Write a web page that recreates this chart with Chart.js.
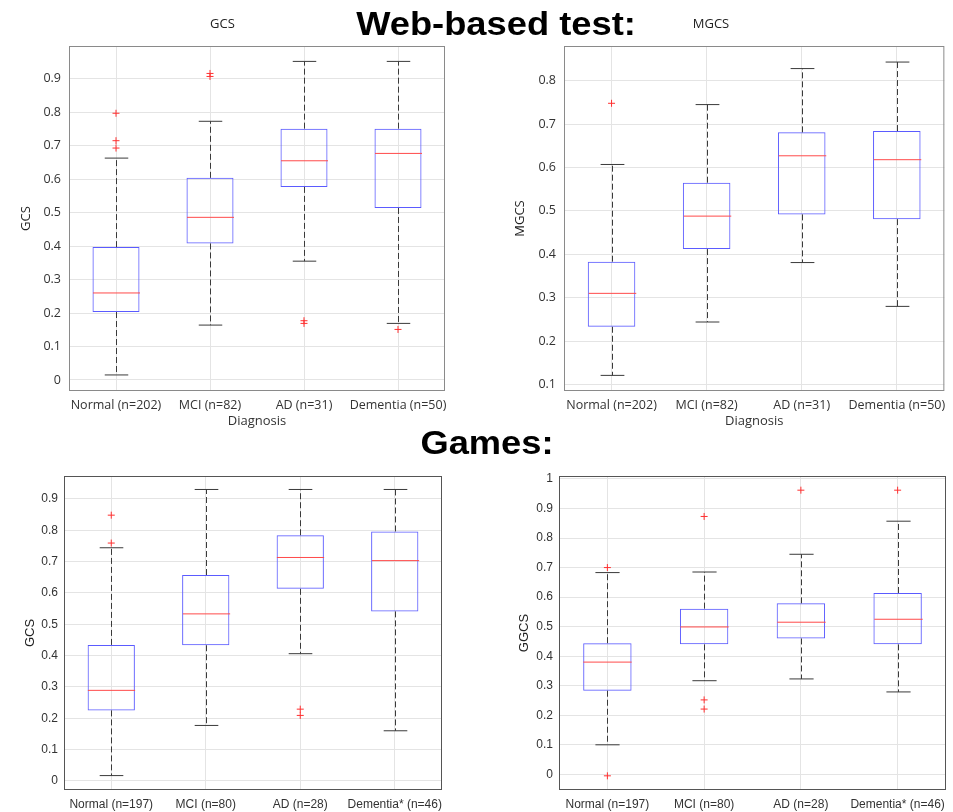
<!DOCTYPE html>
<html>
<head>
<meta charset="utf-8">
<script src="https://cdn.jsdelivr.net/npm/chart.js@4"></script>
<style>
  body { margin: 0; background: #fff; }
  .wrap { position: relative; width: 953px; height: 812px; overflow: hidden; }
  .panel { position: absolute; }
  .heading {
    position: absolute; width: 400px; text-align: center;
    font: bold 33px/33px "Liberation Sans", Arial, sans-serif; color: #000;
    transform: scaleX(1.1); transform-origin: center; z-index: 2; white-space: nowrap;
  }
</style>
</head>
<body>
<div class="wrap">
  <div class="heading" style="left:296px; top:7px;">Web-based test:</div>
  <div class="heading" style="left:287px; top:426px;">Games:</div>
  <div class="panel" style="left:0; top:0; width:476px; height:430px;"><canvas id="web-gcs"></canvas></div>
  <div class="panel" style="left:476px; top:0; width:477px; height:430px;"><canvas id="web-mgcs"></canvas></div>
  <div class="panel" style="left:0; top:430px; width:476px; height:382px;"><canvas id="games-gcs"></canvas></div>
  <div class="panel" style="left:476px; top:430px; width:477px; height:382px;"><canvas id="games-ggcs"></canvas></div>
</div>
<script>
'use strict';

// categories
const webGroups = ['Normal (n=202)', 'MCI (n=82)', 'AD (n=31)', 'Dementia (n=50)']
const gameGroups = ['Normal (n=197)', 'MCI (n=80)', 'AD (n=28)', 'Dementia* (n=46)']

// web-based test, GCS
const webGcsLow = [0.015, 0.164, 0.355, 0.169]
const webGcsQ1 = [0.203, 0.408, 0.577, 0.514]
const webGcsMedian = [0.260, 0.486, 0.655, 0.677]
const webGcsQ3 = [0.397, 0.604, 0.751, 0.751]
const webGcsHigh = [0.663, 0.773, 0.952, 0.952]
const webGcsOutliers = [[0.797, 0.715, 0.693], [0.916, 0.907], [0.177, 0.169], [0.151]]

// web-based test, MGCS
const webMgcsLow = [0.121, 0.244, 0.381, 0.280]
const webMgcsQ1 = [0.233, 0.412, 0.492, 0.481]
const webMgcsMedian = [0.310, 0.488, 0.627, 0.618]
const webMgcsQ3 = [0.383, 0.565, 0.681, 0.684]
const webMgcsHigh = [0.607, 0.745, 0.828, 0.843]
const webMgcsOutliers = [[0.748], [], [], []]

// games, GCS
const gameGcsLow = [0.017, 0.177, 0.406, 0.160]
const gameGcsQ1 = [0.225, 0.433, 0.613, 0.541]
const gameGcsMedian = [0.289, 0.533, 0.713, 0.703]
const gameGcsQ3 = [0.434, 0.657, 0.784, 0.796]
const gameGcsHigh = [0.744, 0.930, 0.930, 0.930]
const gameGcsOutliers = [[0.848, 0.759], [], [0.229, 0.209], []]

// games, GGCS
const gameGgcsLow = [0.100, 0.317, 0.323, 0.279]
const gameGgcsQ1 = [0.283, 0.440, 0.460, 0.440]
const gameGgcsMedian = [0.380, 0.499, 0.515, 0.525]
const gameGgcsQ3 = [0.444, 0.561, 0.579, 0.614]
const gameGgcsHigh = [0.683, 0.685, 0.745, 0.857]
const gameGgcsOutliers = [[0.700, -0.005], [0.873, 0.252, 0.221], [0.962], [0.962]]

const topFont = "'Open Sans', sans-serif"
const bottomFont = "'Liberation Sans', Arial, sans-serif"

// draws whiskers, caps, medians and the axes frame from the scales

function boxWhiskerPlugin(stats, frameColor) {
    return {
        id: 'boxWhiskers',
        afterDatasetsDraw(chart) {
            const { ctx, chartArea, scales: { x, y } } = chart
            const step = x.getPixelForValue(1) - x.getPixelForValue(0)

            const line = (x1, y1, x2, y2) => {
                ctx.beginPath()
                ctx.moveTo(x1, y1)
                ctx.lineTo(x2, y2)
                ctx.stroke()
            }

            ctx.save()
            ctx.lineWidth = 1

            for (let i = 0; i < stats.median.length; i++) {
                const cx = Math.round(x.getPixelForValue(i)) + 0.5
                const yHigh = y.getPixelForValue(stats.high[i])
                const yLow = y.getPixelForValue(stats.low[i])

                // dashed whiskers
                ctx.strokeStyle = '#3a3a3a'
                ctx.setLineDash([6, 3])
                line(cx, y.getPixelForValue(stats.q3[i]), cx, yHigh)
                line(cx, y.getPixelForValue(stats.q1[i]), cx, yLow)
                ctx.setLineDash([])

                // caps
                line(cx - step * 0.125, yHigh, cx + step * 0.125, yHigh)
                line(cx - step * 0.125, yLow, cx + step * 0.125, yLow)

                // median
                ctx.strokeStyle = '#ff4a4a'
                const yMed = y.getPixelForValue(stats.median[i])
                line(cx - step * 0.25, yMed, cx + step * 0.25, yMed)
            }

            ctx.strokeStyle = frameColor
            ctx.strokeRect(chartArea.left + 0.5, chartArea.top + 0.5, chartArea.width - 1, chartArea.height - 1)
            ctx.restore()
        }
    }
}

function makeBoxChart(canvasId, cfg) {
    const boxes = cfg.q1.map((v, i) => [v, cfg.q3[i]])
    const outlierPoints = cfg.outliers.flatMap((list, i) => list.map(v => ({ x: cfg.labels[i], y: v })))

    return new Chart(document.getElementById(canvasId), {
        type: 'bar',
        data: {
            labels: cfg.labels,
            datasets: [{
                data: boxes,
                backgroundColor: 'rgba(0,0,0,0)',
                borderColor: '#5b5bff',
                borderWidth: 1,
                borderSkipped: false,
                categoryPercentage: 1,
                barPercentage: 0.5
            }, {
                type: 'line',
                data: outlierPoints,
                showLine: false,
                pointStyle: 'cross',
                pointRadius: 3.5,
                pointBorderColor: '#ff3030',
                pointBorderWidth: 1
            }]
        },
        options: {
            responsive: true,
            maintainAspectRatio: false,
            animation: false,
            layout: { padding: { left: 0, right: cfg.padRight, top: cfg.padTop, bottom: 0 } },
            plugins: {
                legend: { display: false },
                tooltip: { enabled: false },
                title: {
                    display: !!cfg.title,
                    text: cfg.title,
                    color: '#222',
                    font: { family: cfg.font, size: 13, weight: 'normal' },
                    padding: { top: 16, bottom: 14.4 }
                }
            },
            scales: {
                x: {
                    offset: true,
                    grid: { offset: false, color: '#e4e4e4', drawTicks: false },
                    border: { display: false },
                    ticks: {
                        color: '#333',
                        padding: 7,
                        maxRotation: 0,
                        minRotation: 0,
                        autoSkip: false,
                        font: { family: cfg.font, size: cfg.tickSize }
                    },
                    title: {
                        display: !!cfg.xTitle,
                        text: cfg.xTitle,
                        color: '#333',
                        font: { family: cfg.font, size: 13 },
                        padding: { top: 0, bottom: 0.5 }
                    },
                    afterFit: scale => { scale.height = cfg.xHeight }
                },
                y: {
                    min: cfg.min,
                    max: cfg.max,
                    grid: { color: '#e4e4e4', drawTicks: false },
                    border: { display: false },
                    ticks: {
                        stepSize: 0.1,
                        includeBounds: false,
                        color: '#333',
                        padding: cfg.yPad,
                        font: { family: cfg.font, size: cfg.tickSize },
                        callback: v => String(Math.round(v * 10) / 10)
                    },
                    title: {
                        display: true,
                        text: cfg.yTitle,
                        color: '#222',
                        font: { family: cfg.font, size: 13 },
                        padding: { top: cfg.yTitlePad, bottom: 0 }
                    },
                    afterFit: scale => { scale.width = cfg.yWidth }
                }
            }
        },
        plugins: [boxWhiskerPlugin(cfg, cfg.frame)]
    })
}

makeBoxChart('web-gcs', {
    labels: webGroups, low: webGcsLow, q1: webGcsQ1, median: webGcsMedian, q3: webGcsQ3, high: webGcsHigh,
    outliers: webGcsOutliers, min: -0.033, max: 0.998,
    title: 'GCS', xTitle: 'Diagnosis', yTitle: 'GCS', font: topFont, tickSize: 12.5, frame: '#8a8a8a',
    padRight: 31, padTop: 0, yWidth: 69, xHeight: 39, yPad: 8, yTitlePad: 18
})

makeBoxChart('web-mgcs', {
    labels: webGroups, low: webMgcsLow, q1: webMgcsQ1, median: webMgcsMedian, q3: webMgcsQ3, high: webMgcsHigh,
    outliers: webMgcsOutliers, min: 0.085, max: 0.88,
    title: 'MGCS', xTitle: 'Diagnosis', yTitle: 'MGCS', font: topFont, tickSize: 12.5, frame: '#8a8a8a',
    padRight: 7, padTop: 0, yWidth: 88, xHeight: 39, yPad: 8, yTitlePad: 36
})

makeBoxChart('games-gcs', {
    labels: gameGroups, low: gameGcsLow, q1: gameGcsQ1, median: gameGcsMedian, q3: gameGcsQ3, high: gameGcsHigh,
    outliers: gameGcsOutliers, min: -0.029, max: 0.973,
    title: '', xTitle: '', yTitle: 'GCS', font: bottomFont, tickSize: 12, frame: '#555',
    padRight: 34, padTop: 46, yWidth: 64, xHeight: 22, yPad: 6, yTitlePad: 23
})

makeBoxChart('games-ggcs', {
    labels: gameGroups, low: gameGgcsLow, q1: gameGgcsQ1, median: gameGgcsMedian, q3: gameGgcsQ3, high: gameGgcsHigh,
    outliers: gameGgcsOutliers, min: -0.053, max: 1.01,
    title: '', xTitle: '', yTitle: 'GGCS', font: bottomFont, tickSize: 12, frame: '#555',
    padRight: 7, padTop: 46, yWidth: 83, xHeight: 22, yPad: 6, yTitlePad: 41
})
</script>
</body>
</html>
